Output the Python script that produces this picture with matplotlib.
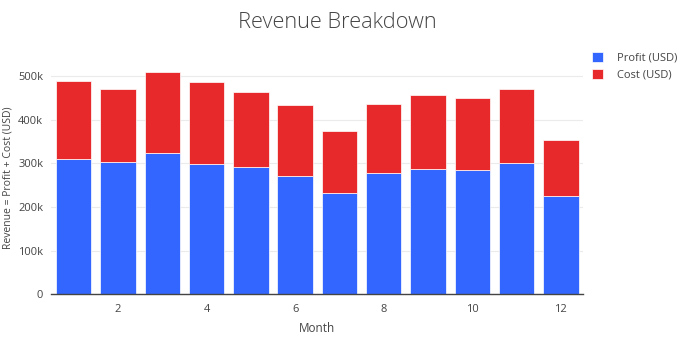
import numpy as np
import matplotlib.pyplot as plt
from matplotlib.ticker import FuncFormatter, MultipleLocator

plt.rcParams['font.family'] = ['Open Sans', 'DejaVu Sans']

months = np.arange(1, 13)
profit = [309, 302, 323, 298, 291, 271, 233, 277, 286, 284, 300, 224]  # thousands USD
cost = [179.5, 167.5, 185, 188, 171.5, 162, 141, 159, 170, 166, 169.5, 129]

profit = np.array(profit) * 1000
cost = np.array(cost) * 1000

fig = plt.figure(figsize=(6.86, 3.39), dpi=100)
ax = fig.add_axes([51.5 / 686, 1 - 294.3 / 339, (583 - 51.5) / 686, (294.3 - 60.7) / 339])

ax.bar(months, profit, width=0.8, color='#3366ff', edgecolor='white', linewidth=0.5,
       label='Profit (USD)', zorder=2)
ax.bar(months, cost, width=0.8, bottom=profit, color='#e8292b', edgecolor='white',
       linewidth=0.5, label='Cost (USD)', zorder=2)

ax.set_xlim(0.5, 12.5)
ax.set_ylim(0, 535000)
ax.yaxis.set_major_locator(MultipleLocator(100000))
ax.yaxis.set_major_formatter(FuncFormatter(lambda v, p: '0' if v == 0 else f'{int(v/1000)}k'))
ax.set_xticks([2, 4, 6, 8, 10, 12])

ax.grid(axis='y', color='#ebebeb', linewidth=0.8, zorder=0)
for s in ['top', 'right', 'left']:
    ax.spines[s].set_visible(False)
ax.spines['bottom'].set_color('#444444')
ax.spines['bottom'].set_linewidth(1)
ax.tick_params(axis='both', length=0, labelsize=8, colors='#444444', pad=6)
ax.tick_params(axis='x', pad=7)

ax.set_xlabel('Month', fontsize=8.5, color='#444444', labelpad=5)
ax.set_ylabel('Revenue = Profit + Cost (USD)', fontsize=7.5, color='#444444', labelpad=3)
fig.suptitle('Revenue Breakdown', x=0.492, y=0.965, fontsize=15.7, color='#444444',
             fontweight='light')

leg = ax.legend(loc='upper left', bbox_to_anchor=(0.998, 1.08), frameon=False, fontsize=8,
                handlelength=1.0, handleheight=1.0, labelspacing=0.45, handletextpad=1.3)
for t in leg.get_texts():
    t.set_color('#444444')

fig.savefig('out.png', dpi=100)
